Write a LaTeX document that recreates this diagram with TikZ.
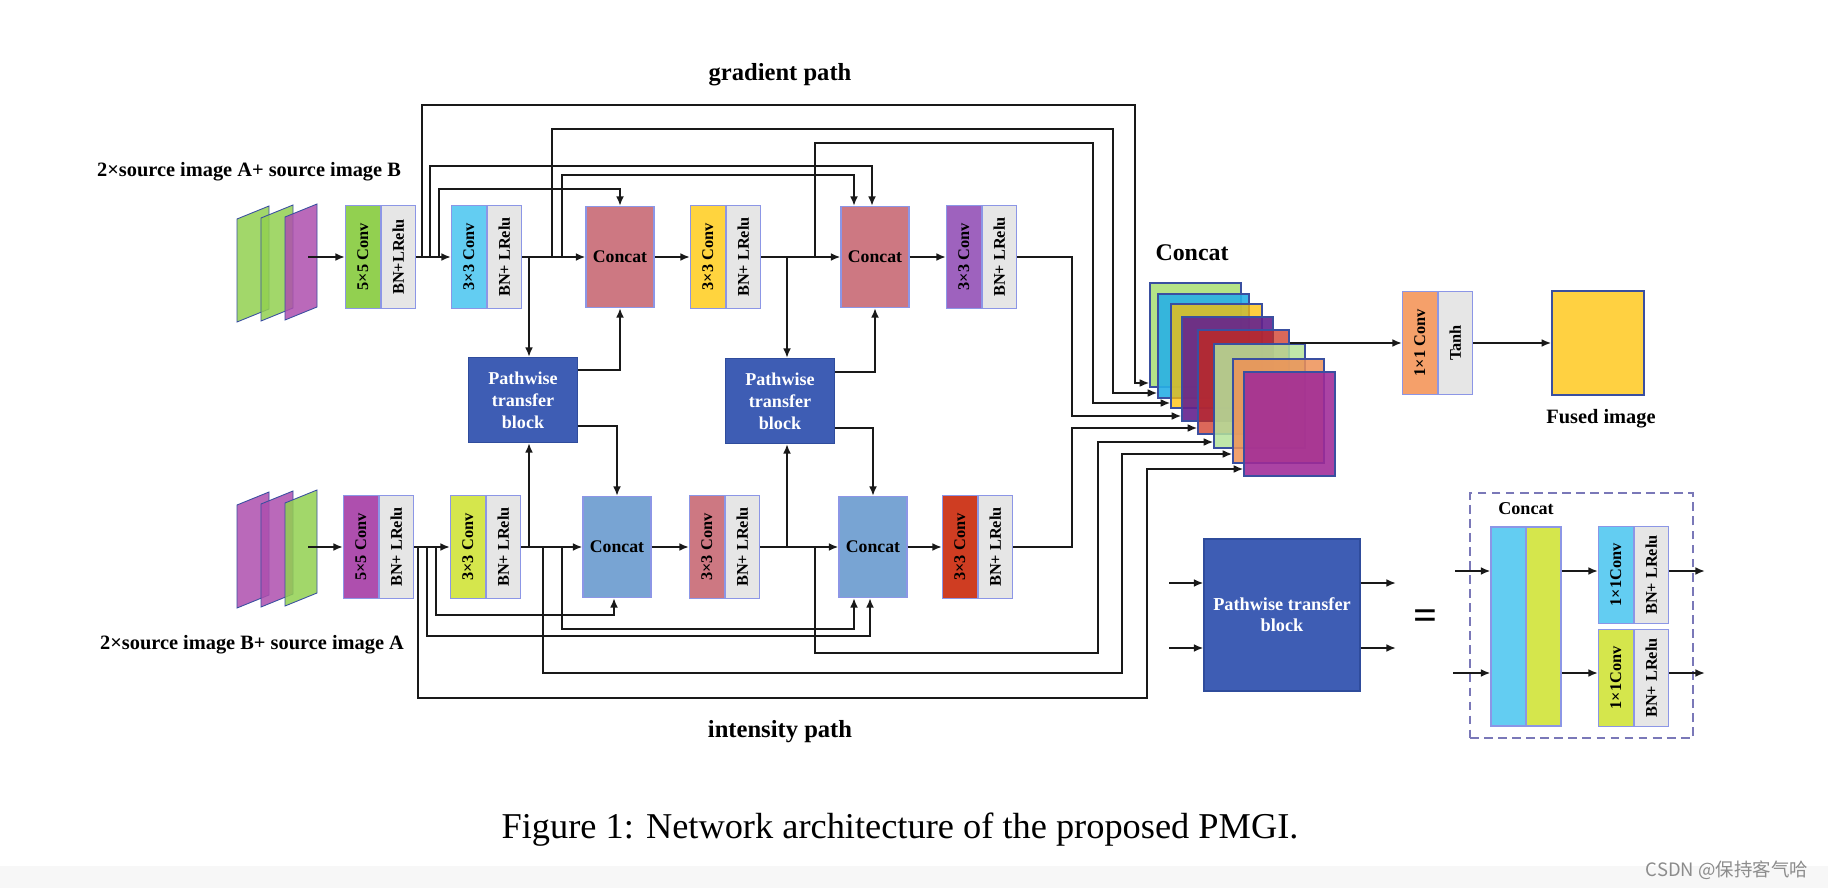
\documentclass[tikz,border=0pt]{standalone}
\usepackage{fontspec}
\setmainfont{Liberation Serif}
\newfontfamily\cjk{Noto Sans CJK SC}
\usetikzlibrary{arrows.meta}

\definecolor{ggreen}{HTML}{92D050}
\definecolor{lgray}{HTML}{E6E6E6}
\definecolor{ccyan}{HTML}{63CDF2}
\definecolor{crose}{HTML}{CD7882}
\definecolor{cyellow}{HTML}{FFD43E}
\definecolor{cpurple}{HTML}{9E62BE}
\definecolor{ptbblue}{HTML}{3E5DB4}
\definecolor{ptbedge}{HTML}{2F4C9C}
\definecolor{cmag}{HTML}{AE4FAE}
\definecolor{clime}{HTML}{D5E64C}
\definecolor{cblue}{HTML}{78A4D3}
\definecolor{cred}{HTML}{CF3D22}
\definecolor{corange}{HTML}{F5A06A}
\definecolor{cgold}{HTML}{FFD141}
\definecolor{edgeblue}{HTML}{8C96E6}
\definecolor{navy}{HTML}{3A4FA0}
\definecolor{dashcol}{HTML}{7A78B8}
\definecolor{st1}{HTML}{ADE07A}
\definecolor{st2}{HTML}{28B0E6}
\definecolor{st3}{HTML}{FFC000}
\definecolor{st4}{HTML}{64228E}
\definecolor{st5}{HTML}{CD2814}
\definecolor{st6}{HTML}{B5E39B}
\definecolor{st7}{HTML}{EE9156}
\definecolor{st8}{HTML}{A02A98}

\newcommand{\pxu}{0.02cm}
\newcommand{\convpair}[6]{%
  \node[half, fill=#4, anchor=west] (#1a) at (#2,#3) {\rotatebox{90}{#5}};
  \node[half, fill=lgray, anchor=west] (#1b) at (#1a.east) {\rotatebox{90}{#6}};
}
\newcommand{\sheetin}[3]{%
  \filldraw[insheet, fill=#3] (#1,#2) -- ++(32,-13) -- ++(0,103) -- ++(-32,13) -- cycle;
}

\tikzset{
  wire/.style={line width=1.55pt, draw=black!90},
  arr/.style={wire, -{Latex[length=5.5pt,width=4.5pt]}},
  half/.style={draw=edgeblue, line width=0.6pt, minimum width=34.5*\pxu, minimum height=103*\pxu, inner sep=0pt, font=\bfseries\fontsize{9.3}{11}\selectfont},
  cat/.style={draw=edgeblue, line width=0.6pt, minimum width=68*\pxu, minimum height=101*\pxu, inner sep=0pt, font=\bfseries\fontsize{10.1}{12}\selectfont},
  ptb/.style={draw=ptbedge, line width=0.6pt, fill=ptbblue, text=white, align=center, minimum width=109*\pxu, minimum height=85*\pxu, inner sep=0pt, font=\bfseries\fontsize{10.3}{12.5}\selectfont},
  sheet/.style={draw=navy, line width=0.7pt, minimum width=91*\pxu, minimum height=104*\pxu, inner sep=0pt},
  insheet/.style={draw=navy, line width=0.5pt, fill opacity=0.85},
  bar/.style={draw=edgeblue, line width=0.6pt, minimum width=35*\pxu, minimum height=199*\pxu, inner sep=0pt},
  lbl/.style={font=\bfseries\fontsize{11.6}{13}\selectfont},
  pathlbl/.style={font=\bfseries\fontsize{14}{16}\selectfont},
}

\begin{document}
\begin{tikzpicture}[x=0.02cm, y=-0.02cm]
\fill[white] (0,0) rectangle (1828,888);
\useasboundingbox (0,0) rectangle (1828,888);
\fill[black!3] (0,866) rectangle (1828,888);

\node[pathlbl] (grad) at (780,75) {gradient path};
\node[pathlbl] (inten) at (780,732) {intensity path};
\node[lbl] (srcA) at (249,172) {2×source image A+ source image B};
\node[lbl] (srcB) at (252,645) {2×source image B+ source image A};

\sheetin{237}{219}{ggreen}
\sheetin{261}{218}{ggreen}
\sheetin{285}{217}{cmag}
\sheetin{237}{505}{cmag}
\sheetin{261}{504}{cmag}
\sheetin{285}{503}{ggreen}
\coordinate (inA) at (308,257);
\coordinate (inB) at (308,547);

\convpair{c5t}{345}{257}{ggreen}{5×5 Conv}{BN+LRelu}
\convpair{c3t}{451}{257}{ccyan}{3×3 Conv}{BN+ LRelu}
\node[cat, fill=crose] (k1t) at (620,257) {Concat};
\convpair{c3y}{690}{257}{cyellow}{3×3 Conv}{BN+ LRelu}
\node[cat, fill=crose] (k2t) at (875,257) {Concat};
\convpair{c3p}{946}{257}{cpurple}{3×3 Conv}{BN+ LRelu}

\convpair{c5b}{343}{547}{cmag}{5×5 Conv}{BN+ LRelu}
\convpair{c3b}{450}{547}{clime}{3×3 Conv}{BN+ LRelu}
\node[cat, fill=cblue] (k1b) at (617,547) {Concat};
\convpair{c3k}{689}{547}{crose}{3×3 Conv}{BN+ LRelu}
\node[cat, fill=cblue] (k2b) at (873,547) {Concat};
\convpair{c3r}{942}{547}{cred}{3×3 Conv}{BN+ LRelu}

\node[ptb] (p1) at (523,400) {Pathwise\\transfer\\block};
\node[ptb] (p2) at (780,401) {Pathwise\\transfer\\block};

\coordinate (t1) at (422,257);
\coordinate (t2) at (430,257);
\coordinate (t3) at (439,257);
\coordinate (t4) at (529,257);
\coordinate (t5) at (552,257);
\coordinate (t6) at (562,257);
\coordinate (t7) at (787,257);
\coordinate (t8) at (815,257);
\coordinate (b1) at (418,547);
\coordinate (b2) at (427,547);
\coordinate (b3) at (436,547);
\coordinate (b4) at (529,547);
\coordinate (b5) at (543,547);
\coordinate (b6) at (562,547);
\coordinate (b7) at (787,547);
\coordinate (b8) at (815,547);

\node[pathlbl, font=\bfseries\fontsize{13.6}{15}\selectfont] (bigcat) at (1192,253) {Concat};
\node[sheet, fill=st1, fill opacity=0.9] (s1) at (1195.5,335) {};
\node[sheet, fill=st2, fill opacity=0.9] (s2) at (1203.5,346) {};
\node[sheet, fill=st3, fill opacity=0.75] (s3) at (1216.5,356) {};
\node[sheet, fill=st4, fill opacity=0.9] (s4) at (1227.5,369) {};
\node[sheet, fill=st5, fill opacity=0.7] (s5) at (1243.5,382) {};
\node[sheet, fill=st6, fill opacity=0.85] (s6) at (1259.5,396) {};
\node[sheet, fill=st7, fill opacity=0.85] (s7) at (1278.5,411) {};
\node[sheet, fill=st8, fill opacity=0.88] (s8) at (1289.5,424) {};

\draw[arr] (inA) -- (c5ta.west);
\draw[arr] (c5tb.east) -- (c3ta.west);
\draw[arr] (c3tb.east) -- (k1t.west);
\draw[arr] (k1t.east) -- (c3ya.west);
\draw[arr] (c3yb.east) -- (k2t.west);
\draw[arr] (k2t.east) -- (c3pa.west);
\draw[arr] (t1) -- (422,105) -| (1135,383) -- (s1.west |- 0,383);
\draw[arr] (t2) -- (430,166) -| ([xshift=-0.06cm]k2t.north);
\draw[arr] (t3) -- (439,189) -| (k1t.north);
\draw[arr] (t4) -- (t4 |- p1.north);
\draw[arr] (t5) -- (552,129) -| (1113,393) -- (s2.west |- 0,393);
\draw[arr] (t6) -- (562,175) -| ([xshift=-0.42cm]k2t.north);
\draw[arr] (t7) -- (t7 |- p2.north);
\draw[arr] (t8) -- (815,143) -| (1093,403) -- (s3.west |- 0,403);
\draw[arr] (c3pb.east) -| (1072,416) -- (s4.west |- 0,416);
\draw[arr] ([yshift=-0.26cm]p1.north east) -| (k1t.south);
\draw[arr] ([yshift=0.34cm]p1.south east) -| (k1b.north);
\draw[arr] ([yshift=-0.28cm]p2.north east) -| (k2t.south);
\draw[arr] ([yshift=0.32cm]p2.south east) -| (k2b.north);

\draw[arr] (inB) -- (c5ba.west);
\draw[arr] (c5bb.east) -- (c3ba.west);
\draw[arr] (c3bb.east) -- (k1b.west);
\draw[arr] (k1b.east) -- (c3ka.west);
\draw[arr] (c3kb.east) -- (k2b.west);
\draw[arr] (k2b.east) -- (c3ra.west);
\draw[arr] (b1) -- (418,698) -| (1147,469) -- (s8.west |- 0,469);
\draw[arr] (b2) -- (427,636) -| ([xshift=-0.06cm]k2b.south);
\draw[arr] (b3) -- (436,615) -| ([xshift=-0.06cm]k1b.south);
\draw[arr] (b4) -- (b4 |- p1.south);
\draw[arr] (b5) -- (543,673) -| (1122,454) -- (s7.west |- 0,454);
\draw[arr] (b6) -- (562,629) -| ([xshift=-0.38cm]k2b.south);
\draw[arr] (b7) -- (b7 |- p2.south);
\draw[arr] (b8) -- (815,653) -| (1098,442) -- (s6.west |- 0,442);
\draw[arr] (c3rb.east) -| (1072,428) -- (s5.west |- 0,428);

\convpair{o}{1402}{343}{corange}{1×1 Conv}{Tanh}
\node[draw=navy, line width=0.8pt, fill=cgold, minimum width=92*\pxu, minimum height=104*\pxu] (fused) at (1598,343) {};
\node[lbl] (fusedlbl) at (1601,419) {Fused image};
\draw[arr] (s5.east |- oa.west) -- (oa.west);
\draw[arr] (ob.east) -- (fused.west);

\node[ptb, minimum width=156*\pxu, minimum height=152*\pxu, font=\bfseries\fontsize{10.4}{12}\selectfont] (lptb) at (1282,615) {Pathwise transfer\\block};
\coordinate (li1) at (1169,583);
\coordinate (li2) at (1169,648);
\coordinate (lo1) at (1396,583);
\coordinate (lo2) at (1396,648);
\draw[arr] (li1) -- (li1 -| lptb.west);
\draw[arr] (li2) -- (li2 -| lptb.west);
\draw[arr] (lo1 -| lptb.east) -- (lo1);
\draw[arr] (lo2 -| lptb.east) -- (lo2);
\node[font=\bfseries\fontsize{24}{24}\selectfont] (eq) at (1425,620) {=};

\node[draw=dashcol, line width=0.9pt, dash pattern=on 5pt off 3pt, minimum width=223*\pxu, minimum height=245*\pxu, inner sep=0pt] (frame) at (1581.5,615.5) {};
\node[font=\bfseries\fontsize{10.3}{12}\selectfont] (lcat) at (1526,509) {Concat};
\node[bar, fill=ccyan] (bar1) at (1508.5,626.5) {};
\node[bar, fill=clime] (bar2) at (1543.5,626.5) {};
\begin{scope}[half/.append style={minimum height=97*\pxu}]
\convpair{g1}{1598}{575}{ccyan}{1×1Conv}{BN+ LRelu}
\convpair{g2}{1598}{678}{clime}{1×1Conv}{BN+ LRelu}
\end{scope}
\coordinate (lc1) at (1455,571);
\coordinate (lc2) at (1453,673);
\coordinate (lx1) at (1705,571);
\coordinate (lx2) at (1705,673);
\draw[arr] (lc1) -- (lc1 -| bar1.west);
\draw[arr] (lc2) -- (lc2 -| bar1.west);
\draw[arr] (lc1 -| bar2.east) -- (lc1 -| g1a.west);
\draw[arr] (lc2 -| bar2.east) -- (lc2 -| g2a.west);
\draw[arr] (lc1 -| g1b.east) -- (lx1);
\draw[arr] (lc2 -| g2b.east) -- (lx2);

\node[font=\fontsize{20.7}{24}\selectfont] (cap) at (900,830) {Figure 1: Network architecture of the proposed PMGI.};
\node[text=black!45, font=\cjk\fontsize{10.5}{12}\selectfont] (wm) at (1727,870) {CSDN @保持客气哈};
\end{tikzpicture}
\end{document}
